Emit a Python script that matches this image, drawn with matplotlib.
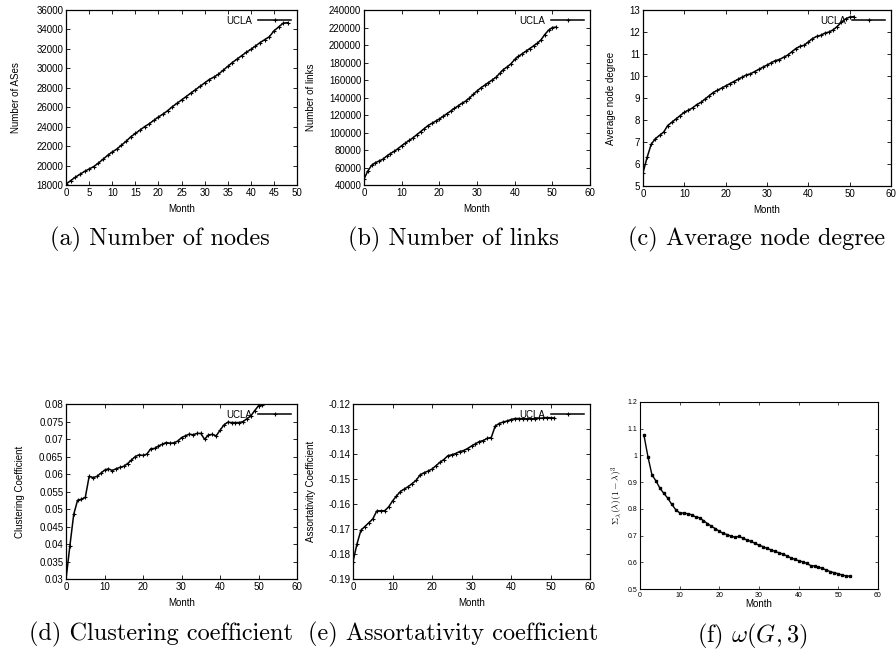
"""Growth of the UCLA AS-level topology over time (six panels)."""
import matplotlib
matplotlib.use("Agg")
import matplotlib.pyplot as plt

plt.rcParams["font.family"] = ["Liberation Sans", "DejaVu Sans"]
plt.rcParams["mathtext.fontset"] = "cm"

# ----- data
months_a = list(range(0, 49))
nodes = [18100, 18450, 18800, 19100, 19400, 19650, 19900, 20250, 20650, 21050,
         21400, 21700, 22100, 22500, 22950, 23300, 23650, 24000, 24300, 24650,
         25000, 25300, 25650, 26050, 26400, 26750, 27100, 27450, 27800, 28150,
         28500, 28850, 29100, 29400, 29800, 30200, 30600, 30950, 31300, 31650,
         31950, 32300, 32650, 32950, 33250, 33850, 34250, 34650, 34700]

months_b = list(range(0, 52))
links = [47000, 56000, 62500, 65500, 67500, 69500, 73000, 76000, 78500, 81500,
         85000, 88000, 91000, 94000, 97500, 101000, 104500, 108000, 110500, 113000,
         115500, 118500, 121500, 124500, 127500, 130500, 133500, 136000, 139500, 143500,
         147500, 151000, 154000, 157000, 160000, 163000, 167500, 172000, 175000, 178500,
         183500, 187000, 190000, 193000, 196000, 199000, 202000, 206000, 212000, 217000,
         220000, 220500]

months_c = list(range(0, 52))
avg_degree = [5.6, 6.3, 6.9, 7.15, 7.3, 7.45, 7.75, 7.9, 8.05, 8.2,
              8.35, 8.45, 8.55, 8.7, 8.8, 8.95, 9.1, 9.25, 9.35, 9.45,
              9.55, 9.65, 9.75, 9.85, 9.95, 10.05, 10.1, 10.2, 10.3, 10.4,
              10.5, 10.6, 10.7, 10.75, 10.85, 10.95, 11.1, 11.25, 11.35, 11.4,
              11.55, 11.7, 11.8, 11.85, 11.95, 12.0, 12.1, 12.25, 12.45, 12.6,
              12.68, 12.7]

months_d = list(range(0, 52))
clustering = [0.0300, 0.0395, 0.0485, 0.0525, 0.0528, 0.0533, 0.0593, 0.0590, 0.0593, 0.0602,
              0.0611, 0.0615, 0.0610, 0.0615, 0.0619, 0.0622, 0.0630, 0.0640, 0.0650, 0.0655,
              0.0653, 0.0657, 0.0672, 0.0673, 0.0680, 0.0685, 0.0690, 0.0688, 0.0689, 0.0694,
              0.0704, 0.0709, 0.0714, 0.0712, 0.0716, 0.0716, 0.0699, 0.0712, 0.0713, 0.0709,
              0.0725, 0.0740, 0.0748, 0.0747, 0.0747, 0.0747, 0.0750, 0.0758, 0.0766, 0.0781,
              0.0795, 0.0798]

months_e = list(range(0, 52))
assortativity = [-0.1830, -0.1760, -0.1705, -0.1690, -0.1675, -0.1660, -0.1628, -0.1627, -0.1627, -0.1612,
                 -0.1588, -0.1568, -0.1550, -0.1540, -0.1530, -0.1518, -0.1505, -0.1483, -0.1475, -0.1468,
                 -0.1460, -0.1447, -0.1433, -0.1422, -0.1407, -0.1403, -0.1398, -0.1390, -0.1386, -0.1378,
                 -0.1368, -0.1359, -0.1350, -0.1346, -0.1337, -0.1334, -0.1288, -0.1278, -0.1272, -0.1268,
                 -0.1262, -0.1258, -0.1258, -0.1259, -0.1259, -0.1259, -0.1259, -0.1257, -0.1256, -0.1254,
                 -0.1255, -0.1256]

months_f = list(range(1, 54))
omega = [1.075, 0.995, 0.928, 0.905, 0.878, 0.858, 0.840, 0.817, 0.797, 0.785,
         0.784, 0.782, 0.778, 0.770, 0.767, 0.756, 0.745, 0.735, 0.726, 0.716,
         0.708, 0.704, 0.697, 0.694, 0.697, 0.690, 0.683, 0.678, 0.671, 0.664,
         0.659, 0.652, 0.647, 0.641, 0.636, 0.631, 0.624, 0.617, 0.611, 0.606,
         0.602, 0.596, 0.588, 0.586, 0.582, 0.577, 0.571, 0.565, 0.561, 0.557,
         0.552, 0.549, 0.548]

CAPTION_FONT = "cmr10"


def gnuplot_panel(fig, rect, x, y, ylabel, xlim, xstep, ylim, ystep, yfmt, ypad=11):
    """Draw one gnuplot-looking panel with a UCLA key in the corner."""
    ax = fig.add_axes(rect)
    ax.plot(x, y, color="black", lw=1.1, marker="+", ms=3, mew=0.8, label="UCLA")
    ax.set_xlim(*xlim)
    ax.set_ylim(*ylim)
    xt = list(range(xlim[0], xlim[1] + 1, xstep))
    ax.set_xticks(xt)
    yt = []
    v = ylim[0]
    while v <= ylim[1] + ystep * 0.01:
        yt.append(v)
        v += ystep
    ax.set_yticks(yt)
    ax.set_yticklabels([yfmt(t) for t in yt])
    ax.tick_params(direction="in", top=True, right=True, length=3, width=0.6,
                   labelsize=7, pad=2)
    for s in ax.spines.values():
        s.set_linewidth(0.9)
    ax.set_xlabel("Month", fontsize=7, labelpad=4.5)
    ax.set_ylabel(ylabel, fontsize=7, labelpad=ypad)
    ax.legend(loc="upper right", frameon=False, markerfirst=False, fontsize=7,
              handlelength=3.4, borderaxespad=0.2, handletextpad=0.6)
    return ax


fig = plt.figure(figsize=(8.96, 6.51), dpi=100)

gnuplot_panel(fig, [0.0737, 0.7158, 0.2578, 0.2688], months_a, nodes,
              "Number of ASes", (0, 50), 5, (18000, 36000), 2000, lambda t: f"{t:.0f}", ypad=11)
gnuplot_panel(fig, [0.4063, 0.7158, 0.2522, 0.2688], months_b, links,
              "Number of links", (0, 60), 10, (40000, 240000), 20000, lambda t: f"{t:.0f}", ypad=9)
gnuplot_panel(fig, [0.7176, 0.7143, 0.2768, 0.2703], months_c, avg_degree,
              "Average node degree", (0, 60), 10, (5, 13), 1, lambda t: f"{t:.0f}", ypad=10)
gnuplot_panel(fig, [0.0737, 0.1106, 0.2578, 0.2688], months_d, clustering,
              "Clustering Coefficient", (0, 60), 10, (0.03, 0.08), 0.005,
              lambda t: f"{t:.3f}".rstrip("0"), ypad=10)
gnuplot_panel(fig, [0.3940, 0.1106, 0.2645, 0.2688], months_e, assortativity,
              "Assortativity Coefficient", (0, 60), 10, (-0.19, -0.12), 0.01,
              lambda t: f"{t:.2f}", ypad=9)

# ----- MATLAB-style panel (f)
ax = fig.add_axes([0.7143, 0.0952, 0.2656, 0.2873])
ax.plot(months_f, omega, color="black", lw=1.0, marker="s", ms=2.0)
ax.set_xlim(0, 60)
ax.set_ylim(0.5, 1.2)
ax.set_xticks(range(0, 61, 10))
ax.set_yticks([0.5, 0.6, 0.7, 0.8, 0.9, 1.0, 1.1, 1.2])
ax.set_yticklabels(["0.5", "0.6", "0.7", "0.8", "0.9", "1", "1.1", "1.2"])
ax.tick_params(direction="in", top=True, right=True, length=2.5, width=0.5,
               labelsize=5, pad=2)
ax.set_xlabel("Month", fontsize=7, labelpad=0)
ax.set_ylabel(r"$\Sigma_\lambda(\lambda)(1-\lambda)^3$", fontsize=7, labelpad=2)

# ----- sub-figure captions
captions = [
    (160, 239, "(a) Number of nodes"),
    (453, 239, "(b) Number of links"),
    (757, 239, "(c) Average node degree"),
    (161, 634, "(d) Clustering coefficient"),
    (453, 634, "(e) Assortativity coefficient"),
]
for cx, cy, txt in captions:
    fig.text(cx / 896, 1 - cy / 651, txt, ha="center", va="center",
             fontsize=17.5, fontfamily=CAPTION_FONT)
fig.text(752 / 896, 1 - 636 / 651, r"(f) $\omega(G,3)$", ha="center", va="center",
         fontsize=17.5, fontfamily=CAPTION_FONT)

fig.savefig("out.png", dpi=100)
